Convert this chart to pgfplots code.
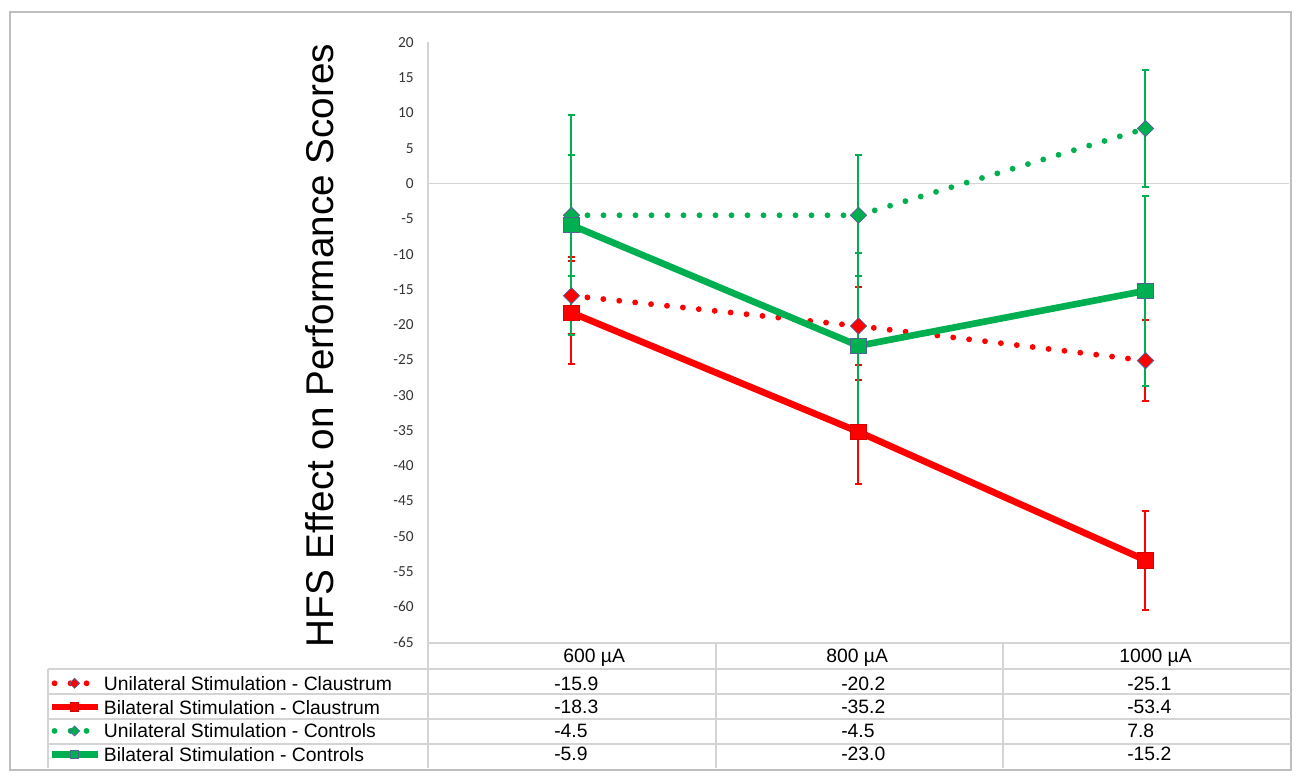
\documentclass[border=0pt]{standalone}
\usepackage{pgfplots}
\usepackage{pgfplotstable}
\pgfplotsset{compat=1.18}
\usepackage{fontspec}
\setmainfont{Liberation Sans}
\newfontfamily\carlito{Carlito}
\definecolor{xred}{RGB}{255,0,0}
\definecolor{xgreen}{RGB}{0,176,80}
\definecolor{medge}{RGB}{80,100,150}
\definecolor{tline}{RGB}{212,212,212}
\definecolor{oline}{RGB}{190,190,190}

\pgfplotstableread{
x y e
0 -15.9 5.5
1 -20.2 5.5
2 -25.1 5.7
}\uniclaus
\pgfplotstableread{
x y e
0 -18.3 7.3
1 -35.2 7.4
2 -53.4 7.0
}\biclaus
\pgfplotstableread{
x y e
0 -4.5 8.6
1 -4.5 8.6
2 7.8 8.3
}\unicont
\pgfplotstableread{
x y e
0 -5.9 15.6
1 -23.0 13.1
2 -15.2 13.5
}\bicont

\pgfplotsset{
  legend image code/.code={\draw[mark repeat=2,mark phase=2,#1] plot coordinates {(0pt,0pt)(17.25pt,0pt)(34.5pt,0pt)};},
  dotkey/.style={legend image code/.code={\draw[mark repeat=2,mark phase=2,##1] plot coordinates {(2.2pt,0pt)(17.25pt,0pt)(32.3pt,0pt)};}},
  errs/.style={error bars/.cd, y dir=both, y explicit,
    error bar style={solid, line width=1.5pt, line cap=butt},
    error mark options={solid, rotate=90, line width=1.5pt, mark size=2.6pt}},
}

\begin{document}
\begin{tikzpicture}
\path[use as bounding box] (-321pt,481.5pt) rectangle (654pt,-102.75pt);
\begin{axis}[
  at={(0,0)}, anchor=south west,
  scale only axis, width=645.75pt, height=449.625pt,
  xmin=-0.5, xmax=2.5, ymin=-65, ymax=20,
  axis x line=none,
  axis y line*=left,
  y axis line style={draw=none},
  ytick={-65,-60,...,20},
  major tick length=0pt,
  /pgf/number format/assume math mode=true,
  yticklabel style={font=\carlito\fontsize{11.5}{13}\selectfont, text=black!80, inner sep=0pt, anchor=east, xshift=-10.5pt},
  clip=false,
  legend style={at={(-0.4413,-0.0569)}, anchor=north west, draw=none, fill=none, inner sep=0pt,
    font=\fontsize{14.5}{16}\selectfont, row sep=7.45pt, column sep=2.25pt,
    nodes={inner sep=0pt, text height=10.4pt, text depth=0pt}},
  legend cell align=left,
]
\draw[tline, line width=1pt] (axis cs:-0.5,0) -- (axis cs:2.5,0);

\addplot[xred, line width=4.4pt, line cap=round, dash pattern=on 0pt off 12pt,
  mark=square*, mark size=4.3pt, mark options={solid, rotate=45, fill=xred, draw=medge, line width=0.6pt},
  dotkey, legend image post style={mark size=2.6pt}, errs]
  table[x=x, y=y, y error=e] \uniclaus;
\addlegendentry{Unilateral Stimulation - Claustrum}

\addplot[xred, line width=5pt, mark=square*, mark size=5.8pt,
  mark options={solid, fill=xred, draw=xred!85!black, line width=0.6pt},
  legend image post style={mark size=3.2pt}, errs]
  table[x=x, y=y, y error=e] \biclaus;
\addlegendentry{Bilateral Stimulation - Claustrum}

\addplot[xgreen, line width=4.4pt, line cap=round, dash pattern=on 0pt off 12pt,
  mark=square*, mark size=4.3pt, mark options={solid, rotate=45, fill=xgreen, draw=medge, line width=0.6pt},
  dotkey, legend image post style={mark size=2.6pt}, errs]
  table[x=x, y=y, y error=e] \unicont;
\addlegendentry{Unilateral Stimulation - Controls}

\addplot[xgreen, line width=5pt, mark=square*, mark size=5.8pt,
  mark options={solid, fill=xgreen, draw=medge, line width=0.75pt},
  legend image post style={mark size=3.2pt}, errs]
  table[x=x, y=y, y error=e] \bicont;
\addlegendentry{Bilateral Stimulation - Controls}
\end{axis}

\begin{scope}[x=0.75pt,y=-0.75pt,shift={(-321pt,481.5pt)}]
  % outer border
  \draw[oline, line width=1.2pt] (10,12) rectangle (1291,770);
  % y axis line continuing into table
  \draw[tline, line width=1pt] (428,42) -- (428,768);
  % table lines
  \draw[tline, line width=1pt] (428,643) -- (1291,643);
  \foreach \yy in {669,694,719,744} \draw[tline, line width=1pt] (48,\yy) -- (1291,\yy);
  \draw[tline, line width=1pt] (48,669) -- (48,768);
  \draw[tline, line width=1pt] (716,643) -- (716,768);
  \draw[tline, line width=1pt] (1003,643) -- (1003,768);
  % y label
  \node[rotate=90, font=\fontsize{29}{32}\selectfont, inner sep=0pt] at (320,345.5) {HFS Effect on Performance Scores};
  % table text
  \begin{scope}[every node/.style={anchor=west, inner sep=0pt, text height=10.4pt, text depth=0pt, font=\fontsize{14.5}{16}\selectfont}]
    \node at (563,656) {600 µA};
    \node at (826,656) {800 µA};
    \node at (1119,656) {1000 µA};
    \node at (554,684) {-15.9}; \node at (841,684) {-20.2}; \node at (1127,684) {-25.1};
    \node at (554,707) {-18.3}; \node at (841,707) {-35.2}; \node at (1127,707) {-53.4};
    \node at (554,731) {-4.5};  \node at (841,731) {-4.5};  \node at (1127,731) {7.8};
    \node at (554,754) {-5.9};  \node at (841,754) {-23.0}; \node at (1127,754) {-15.2};
  \end{scope}
\end{scope}
\end{tikzpicture}
\end{document}
